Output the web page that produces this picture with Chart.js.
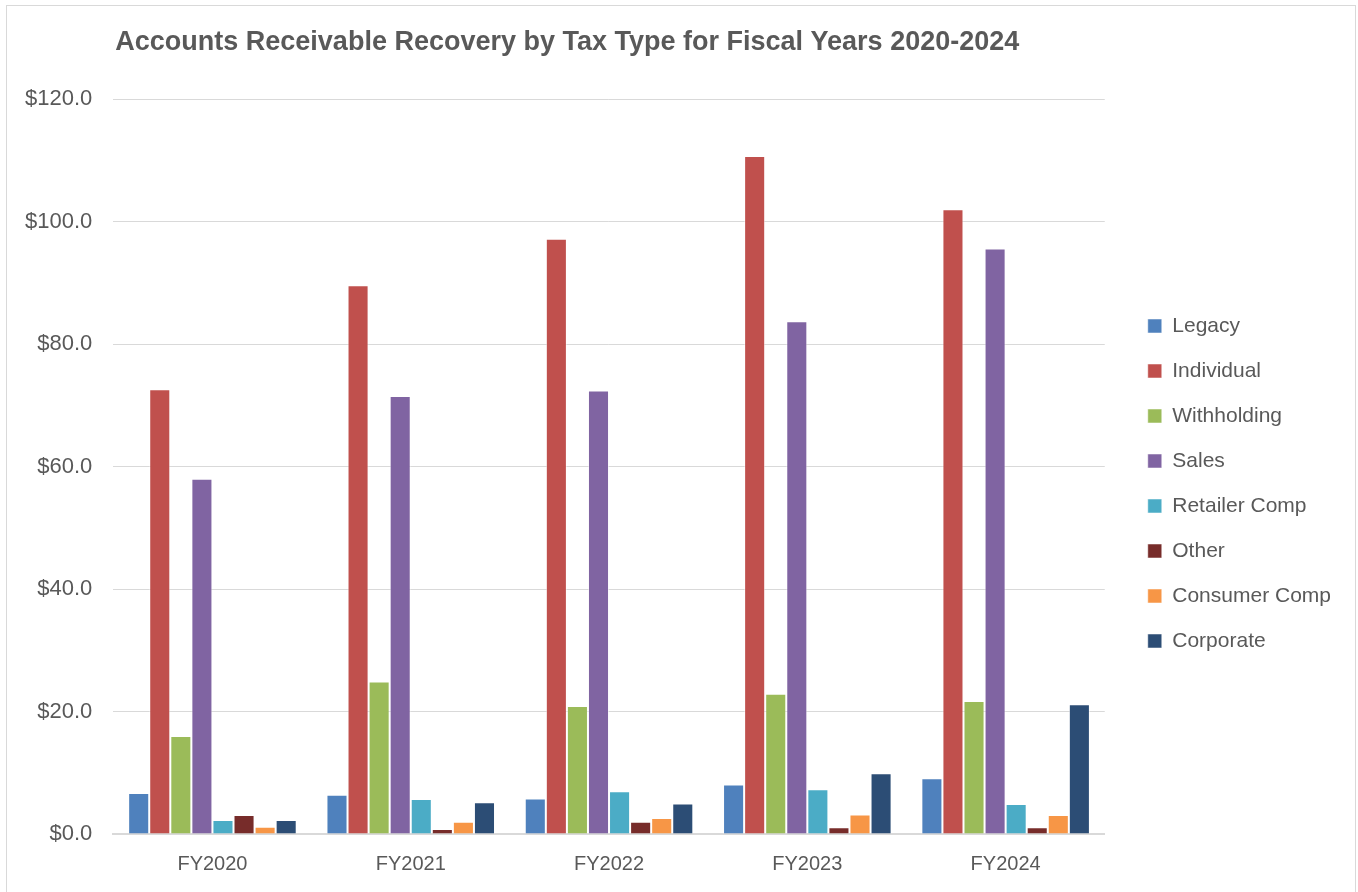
<!DOCTYPE html>
<html>
  <head>
    <meta charset="utf-8" />
    <script src="https://cdn.jsdelivr.net/npm/chart.js"></script>
    <title>AR Recovery</title>
    <style>
      html, body { margin: 0; padding: 0; background: #fff; }
      .frame {
        position: absolute; left: 6px; top: 5px; width: 1350px; height: 900px;
        border: 1px solid #d9d9d9; box-sizing: border-box;
      }
      .wrap { position: absolute; left: 0; top: 0; width: 1358px; height: 892px; }
    </style>
  </head>
  <body>
    <div class="frame"></div>
    <div class="wrap"><canvas id="chart"></canvas></div>

    <script>
      // categories (fiscal years)
      var years = ["FY2020", "FY2021", "FY2022", "FY2023", "FY2024"];

      // recovery by tax type, $ millions
      var legacy       = [6.7, 6.4, 5.8, 8.1, 9.1];
      var individual   = [72.6, 89.6, 97.2, 110.7, 102.0];
      var withholding  = [16.0, 24.9, 20.9, 22.9, 21.7];
      var sales        = [58.0, 71.5, 72.4, 83.7, 95.6];
      var retailerComp = [2.3, 5.7, 7.0, 7.3, 4.9];
      var other        = [3.1, 0.8, 2.0, 1.1, 1.1];
      var consumerComp = [1.2, 2.0, 2.6, 3.2, 3.1];
      var corporate    = [2.3, 5.2, 5.0, 9.9, 21.2];

      var yTicks = [0, 20, 40, 60, 80, 100, 120];

      var seriesNames = ["Legacy", "Individual", "Withholding", "Sales",
        "Retailer Comp", "Other", "Consumer Comp", "Corporate"];
      var seriesData = [legacy, individual, withholding, sales,
        retailerComp, other, consumerComp, corporate];
      var seriesColors = ["#4f81bd", "#c0504d", "#9bbb59", "#8064a2",
        "#4bacc6", "#772c2a", "#f79646", "#2c4d75"];

      var FONT = "'Liberation Sans', Arial, sans-serif";
      var GREY = "#595959";

      // title drawn at the left edge of the plot area
      var titlePlugin = {
        id: "leftTitle",
        afterDraw: function (chart) {
          var ctx = chart.ctx;
          ctx.save();
          ctx.font = "bold 27px " + FONT;
          ctx.fillStyle = GREY;
          ctx.textBaseline = "middle";
          ctx.fillText("Accounts Receivable Recovery by Tax Type for Fiscal Years 2020-2024",
            chart.chartArea.left + 2, 43);
          ctx.restore();
        }
      };

      // push the legend a little away from the plot and up a bit
      var legendShift = {
        id: "legendShift",
        afterLayout: function (chart) {
          chart.legend.left += 19;
          chart.legend.right += 19;
          chart.legend.top -= 9;
          chart.legend.bottom -= 9;
        }
      };

      var datasets = seriesNames.map(function (name, i) {
        return {
          label: name,
          data: seriesData[i],
          backgroundColor: seriesColors[i],
          borderColor: "rgba(255,255,255,0.5)",
          borderWidth: 1,
          barPercentage: 1.0,
          categoryPercentage: 0.85,
        };
      });

      new Chart(document.getElementById("chart"), {
        type: "bar",
        data: { labels: years, datasets: datasets },
        plugins: [titlePlugin, legendShift],
        options: {
          responsive: true,
          maintainAspectRatio: false,
          animation: false,
          layout: { padding: { top: 99, left: 4, right: 36, bottom: 6 } },
          plugins: {
            title: { display: false },
            tooltip: { enabled: false },
            legend: {
              position: "right",
              labels: {
                color: GREY,
                font: { family: FONT, size: 21 },
                boxWidth: 14,
                boxHeight: 14,
                padding: 24,
              },
            },
          },
          scales: {
            x: {
              grid: { display: false },
              border: { color: "#d9d9d9", width: 2 },
              ticks: { color: GREY, font: { family: FONT, size: 20 }, padding: 10 },
            },
            y: {
              min: 0,
              max: 120,
              afterBuildTicks: function (axis) {
                axis.ticks = yTicks.map(function (v) { return { value: v }; });
              },
              grid: { color: "#d9d9d9", lineWidth: 1, drawTicks: false },
              border: { display: false },
              ticks: {
                color: GREY,
                font: { family: FONT, size: 22 },
                padding: 21,
                callback: function (v) { return "$" + Number(v).toFixed(1); },
              },
            },
          },
        },
      });
    </script>
  </body>
</html>
